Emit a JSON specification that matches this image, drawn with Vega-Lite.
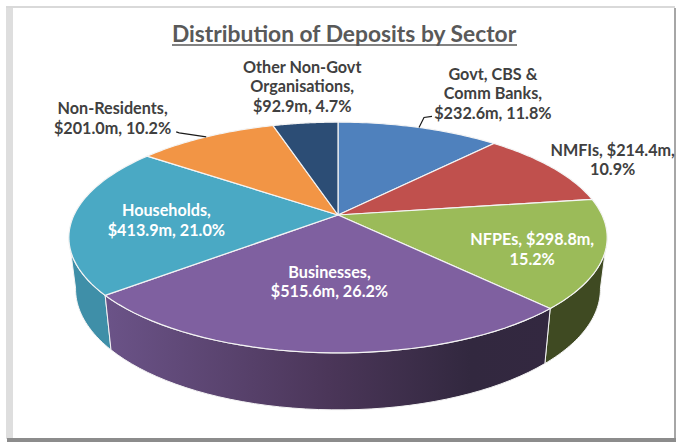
{
"$schema":"https://vega.github.io/schema/vega-lite/v6.json",
"width":676,"height":442,"padding":0,"autosize":{"type":"none"},
"background":"#ffffff",
"config":{"view":{"stroke":null}},
"title":{"text":"Distribution of Deposits by Sector","font":"Lato","fontSize":22.8,"fontWeight":"bold","color":"#595959","anchor":"middle","frame":"group","offset":-47,"dx":6},
"data":{"values":[
{"rank":0,"sector":"Govt, CBS & Comm Banks","value":232.6,"label":"Govt, CBS &\nComm Banks,\n$232.6m, 11.8%"},
{"rank":1,"sector":"NMFIs","value":214.4,"label":"NMFIs, $214.4m,\n10.9%"},
{"rank":2,"sector":"NFPEs","value":298.8,"label":"NFPEs, $298.8m,\n15.2%"},
{"rank":3,"sector":"Businesses","value":515.6,"label":"Businesses,\n$515.6m, 26.2%"},
{"rank":4,"sector":"Households","value":413.9,"label":"Households,\n$413.9m, 21.0%"},
{"rank":5,"sector":"Non-Residents","value":201.0,"label":"Non-Residents,\n$201.0m, 10.2%"},
{"rank":6,"sector":"Other Non-Govt Organisations","value":92.9,"label":"Other Non-Govt\nOrganisations,\n$92.9m, 4.7%"}
]},
"transform":[
{"stack":"value","as":["v0","v1"],"sort":[{"field":"rank"}],"groupby":[]},
{"joinaggregate":[{"op":"sum","field":"value","as":"total"}]},
{"calculate":"datum.v0/datum.total*2*PI","as":"a0"},
{"calculate":"datum.v1/datum.total*2*PI","as":"a1"}
],
"layer":[
{"data":{"values":[{"n":"frame"}]},"transform":[],"mark":{"type":"rule","stroke":"#dedede","strokeWidth":7},"encoding":{"x":{"datum":9.5,"scale":{"domain":[0,676],"nice":false,"zero":false},"axis":null},"y":{"datum":8,"scale":{"domain":[442,0],"nice":false,"zero":false},"axis":null},"y2":{"datum":439}}},
{"data":{"values":[{"n":"frame"}]},"transform":[],"mark":{"type":"rule","stroke":"#d9d9d9","strokeWidth":2},"encoding":{"x":{"datum":6},"x2":{"datum":675},"y":{"datum":7}}},
{"data":{"values":[{"n":"frame"}]},"transform":[],"mark":{"type":"rule","stroke":"#a6a6a6","strokeWidth":2},"encoding":{"x":{"datum":675},"y":{"datum":8},"y2":{"datum":440}}},
{"data":{"values":[{"n":"frame"}]},"transform":[],"mark":{"type":"rule","stroke":"#8c8c8c","strokeWidth":4},"encoding":{"x":{"datum":7},"x2":{"datum":676},"y":{"datum":440}}},
{"data":{"values":[{"n":"underline"}]},"transform":[],"mark":{"type":"rule","stroke":"#595959","strokeWidth":1.5},"encoding":{"x":{"datum":172},"x2":{"datum":517},"y":{"datum":45}}},
{"transform":[
{"calculate":"max(datum.a0,101*PI/180)","as":"b0"},
{"calculate":"min(datum.a1,259*PI/180)","as":"b1"},
{"filter":"datum.b1>datum.b0"},
{"filter":"datum.rank!=3"},
{"calculate":"'Wall '+datum.sector","as":"wall"},
{"calculate":"sequence(0,83)","as":"ids"},
{"flatten":["ids"],"as":["i"]},
{"calculate":"datum.i==82?0:(datum.i<=40?datum.i/40:(81-datum.i)/40)","as":"p"},
{"calculate":"datum.b0+(datum.b1-datum.b0)*datum.p","as":"ang"},
{"calculate":"sin(datum.ang)","as":"u"},
{"calculate":"cos(datum.ang)","as":"v"},
{"calculate":"1+0.195*datum.v","as":"d"},
{"calculate":"(datum.i>40&&datum.i<82)?338+0.975*264*datum.u/datum.d:338+264*datum.u/datum.d","as":"px"},
{"calculate":"215-111*datum.v/datum.d+((datum.i>40&&datum.i<82)?50-7*datum.v:0)","as":"py"}
],
"mark":{"type":"line","filled":true,"stroke":"#f4f4f4","strokeWidth":1,"interpolate":"linear"},
"encoding":{"x":{"field":"px","type":"quantitative"},"y":{"field":"py","type":"quantitative"},"order":{"field":"i"},"detail":{"field":"sector"},
"color":{"field":"wall","type":"nominal","legend":null,"scale":{"domain":["Govt, CBS & Comm Banks","NMFIs","NFPEs","Businesses","Households","Non-Residents","Other Non-Govt Organisations","Wall NFPEs","Wall Households"],"range":["#4f81bd","#c0504d","#9bbb59","#7f60a0","#4aa9c4","#f29545","#2c4d75","#3f4a22","#3f8fa8"]}}}},
{"transform":[
{"calculate":"max(datum.a0,101*PI/180)","as":"b0"},
{"calculate":"min(datum.a1,259*PI/180)","as":"b1"},
{"filter":"datum.rank==3"},
{"calculate":"sequence(0,83)","as":"ids"},
{"flatten":["ids"],"as":["i"]},
{"calculate":"datum.i==82?0:(datum.i<=40?datum.i/40:(81-datum.i)/40)","as":"p"},
{"calculate":"datum.b0+(datum.b1-datum.b0)*datum.p","as":"ang"},
{"calculate":"sin(datum.ang)","as":"u"},
{"calculate":"cos(datum.ang)","as":"v"},
{"calculate":"1+0.195*datum.v","as":"d"},
{"calculate":"(datum.i>40&&datum.i<82)?338+0.975*264*datum.u/datum.d:338+264*datum.u/datum.d","as":"px"},
{"calculate":"215-111*datum.v/datum.d+((datum.i>40&&datum.i<82)?50-7*datum.v:0)","as":"py"}
],
"mark":{"type":"line","filled":true,"stroke":"#f4f4f4","strokeWidth":1,"fill":{"gradient":"linear","x1":0,"x2":1,"y1":0,"y2":0,"stops":[{"offset":0,"color":"#6b5388"},{"offset":0.5,"color":"#4b3659"},{"offset":0.82,"color":"#32283f"},{"offset":1,"color":"#332840"}]}},
"encoding":{"x":{"field":"px","type":"quantitative"},"y":{"field":"py","type":"quantitative"},"order":{"field":"i"},"detail":{"field":"sector"}}},
{"transform":[
{"calculate":"sequence(0,43)","as":"ids"},
{"flatten":["ids"],"as":["i"]},
{"calculate":"datum.a0+(datum.a1-datum.a0)*(datum.i-1)/40","as":"ang"},
{"calculate":"(datum.i==0||datum.i==42)?0:1","as":"rr"},
{"calculate":"datum.rr*sin(datum.ang)","as":"u"},
{"calculate":"datum.rr*cos(datum.ang)","as":"v"},
{"calculate":"1+0.195*datum.v","as":"d"},
{"calculate":"338+264*datum.u/datum.d","as":"px"},
{"calculate":"215-111*datum.v/datum.d","as":"py"}
],
"mark":{"type":"line","filled":true,"stroke":"#f4f4f4","strokeWidth":1.2,"interpolate":"linear"},
"encoding":{"x":{"field":"px","type":"quantitative"},"y":{"field":"py","type":"quantitative"},"order":{"field":"i"},"detail":{"field":"sector"},
"color":{"field":"sector","type":"nominal","legend":null}}},
{"transform":[
{"filter":"datum.rank==0||datum.rank==5"},
{"calculate":"sequence(0,3)","as":"ids"},
{"flatten":["ids"],"as":["i"]},
{"calculate":"(datum.a0+datum.a1)/2","as":"mid"},
{"calculate":"sin(datum.mid)","as":"u"},
{"calculate":"cos(datum.mid)","as":"v"},
{"calculate":"1+0.195*datum.v","as":"d"},
{"calculate":"338+264*datum.u/datum.d+(datum.rank==0?[0,5,13]:[0,-27,-30])[datum.i]","as":"px"},
{"calculate":"215-111*datum.v/datum.d+(datum.rank==0?[0,-10,-11]:[0,-4,-5])[datum.i]","as":"py"}
],
"mark":{"type":"line","stroke":"#1a1a1a","strokeWidth":1.2},
"encoding":{"x":{"field":"px","type":"quantitative"},"y":{"field":"py","type":"quantitative"},"order":{"field":"i"},"detail":{"field":"sector"}}},
{"transform":[
{"calculate":"(datum.a0+datum.a1)/2","as":"mid"},
{"calculate":"[1.501,1.196,0.875,0.534,0.648,1.308,1.519][datum.rank]","as":"rr"},
{"calculate":"datum.rr*sin(datum.mid)","as":"u"},
{"calculate":"datum.rr*cos(datum.mid)","as":"v"},
{"calculate":"1+0.195*datum.v","as":"d"},
{"calculate":"338+264*datum.u/datum.d+[42,23,-37,1,0,-60,10][datum.rank]","as":"px"},
{"calculate":"215-111*datum.v/datum.d+[-18.5,-8.5,-8.5,-8.5,-5.5,-7.5,-18.5][datum.rank]","as":"py"}
],
"mark":{"type":"text","font":"Lato","fontSize":16.2,"fontWeight":"bold","lineBreak":"\n","lineHeight":19.5,"align":"center","baseline":"middle"},
"encoding":{"x":{"field":"px","type":"quantitative"},"y":{"field":"py","type":"quantitative"},"text":{"field":"label"},
"color":{"condition":{"test":"datum.rank>=2&&datum.rank<=4","value":"#ffffff"},"value":"#404040"}}}
]
}
